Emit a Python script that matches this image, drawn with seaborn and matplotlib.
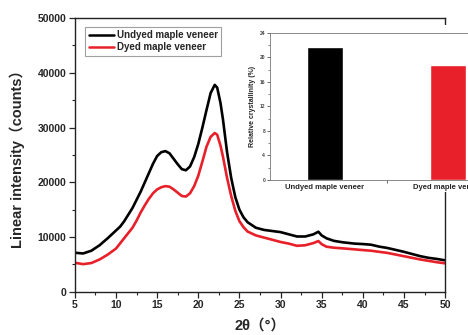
import numpy as np
import pandas as pd
import matplotlib
matplotlib.use("Agg")
import matplotlib.pyplot as plt
import seaborn as sns
from matplotlib.patches import Rectangle
from matplotlib.ticker import MultipleLocator

# XRD curves
two_theta_undyed = [5, 6, 7, 8, 9, 10, 10.5, 11, 12, 12.5, 13, 13.5, 14, 14.5, 15, 15.5, 16, 16.5,
                    17, 17.5, 18, 18.5, 19, 19.5, 20, 20.5, 21, 21.5, 22, 22.3, 22.7, 23, 23.5,
                    24, 24.5, 25, 25.5, 26, 27, 28, 29, 30, 31, 32, 33, 34, 34.6, 35, 35.6, 36.5,
                    37.6, 39, 40, 41, 42, 43, 44, 45, 46, 47, 48, 49, 50]
undyed = [7130, 7000, 7500, 8500, 9800, 11200, 11900, 12900, 15300, 16800, 18300, 20000, 21700,
          23400, 24800, 25500, 25700, 25300, 24300, 23300, 22400, 22200, 22900, 24600, 27000,
          30000, 33200, 36300, 37800, 37300, 34500, 31500, 25500, 20800, 17300, 15000, 13600,
          12700, 11700, 11300, 11100, 10900, 10500, 10100, 10100, 10500, 10970, 10300, 9760,
          9300, 9030, 8800, 8720, 8600, 8250, 8000, 7650, 7300, 6900, 6500, 6200, 6000, 5750]

two_theta_dyed = [5, 6, 7, 8, 9, 10, 11, 12, 12.5, 13, 13.5, 14, 14.5, 15, 15.5, 16, 16.5, 17,
                  17.5, 18, 18.5, 19, 19.5, 20, 20.5, 21, 21.5, 22, 22.3, 22.7, 23, 23.5, 24,
                  24.5, 25, 25.5, 26, 27, 28, 29, 30, 31, 32, 33, 34, 34.6, 35, 35.6, 36.5, 37.6,
                  39, 40, 41, 42, 43, 44, 45, 46, 47, 48, 49, 50]
dyed = [5300, 5050, 5250, 5900, 6800, 7900, 9800, 11700, 13000, 14500, 15800, 17000, 18000,
        18700, 19100, 19300, 19200, 18700, 18100, 17500, 17400, 18000, 19300, 21200, 23800,
        26500, 28300, 29000, 28700, 26700, 24700, 20800, 17500, 14800, 12900, 11800, 11000,
        10300, 9900, 9500, 9100, 8800, 8400, 8500, 8900, 9270, 8700, 8230, 8050, 7930, 7750,
        7620, 7500, 7300, 7100, 6800, 6500, 6200, 5900, 5650, 5400, 5200]

series_names = ["Undyed maple veneer", "Dyed maple veneer"]
crystallinity = [21.7, 18.8]

black = "#000000"
red = "#e8202a"

sns.set_style("ticks")
plt.rcParams["font.family"] = ["Liberation Sans", "Noto Sans CJK SC", "DejaVu Sans"]
plt.rcParams["font.weight"] = "bold"

df = pd.concat([
    pd.DataFrame({"two_theta": two_theta_undyed, "counts": undyed, "sample": series_names[0]}),
    pd.DataFrame({"two_theta": two_theta_dyed, "counts": dyed, "sample": series_names[1]}),
])

fig = plt.figure(figsize=(4.68, 3.35), dpi=100)
ax = fig.add_axes([0.160, 0.129, 0.791, 0.817])

sns.lineplot(data=df, x="two_theta", y="counts", hue="sample",
             palette={series_names[0]: black, series_names[1]: red},
             linewidth=1.9, ax=ax, sort=False)

ax.set_xlim(5, 50)
ax.set_ylim(0, 50000)
ax.xaxis.set_major_locator(MultipleLocator(5))
ax.xaxis.set_minor_locator(MultipleLocator(2.5))
ax.yaxis.set_major_locator(MultipleLocator(10000))
ax.yaxis.set_minor_locator(MultipleLocator(5000))
ax.tick_params(which="major", direction="out", length=4, width=0.9, labelsize=7.5, pad=2)
ax.tick_params(which="minor", direction="out", length=2.5, width=0.8)
for lab in ax.get_xticklabels() + ax.get_yticklabels():
    lab.set_fontweight("bold")
for sp in ax.spines.values():
    sp.set_visible(True)
    sp.set_linewidth(1.0)
    sp.set_color("#222222")
ax.set_xlabel("2θ（°）", fontsize=10.5, fontweight="bold", labelpad=6)
ax.set_ylabel("Linear intensity（counts）", fontsize=10.5, fontweight="bold", labelpad=9)

handles, labels = ax.get_legend_handles_labels()
leg = ax.legend(handles, labels, loc="upper left", bbox_to_anchor=(0.015, 0.985),
                fontsize=7, frameon=True, fancybox=False, handlelength=2.6,
                borderpad=0.35, labelspacing=0.2, handletextpad=0.3)
leg.get_frame().set_edgecolor("#888888")
leg.get_frame().set_linewidth(0.8)
for t in leg.get_texts():
    t.set_fontweight("bold")
for ln in leg.get_lines():
    ln.set_linewidth(1.8)

# white patch behind the inset
fig.patches.append(Rectangle((0.523, 0.427), 0.48, 0.498, transform=fig.transFigure,
                             facecolor="white", edgecolor="none", zorder=5))

inset = fig.add_axes([0.577, 0.463, 0.498, 0.439])
inset.set_zorder(6)
sns.barplot(x=series_names, y=crystallinity, hue=series_names,
            palette=[black, red], width=0.29, legend=False, saturation=1, ax=inset)
inset.set_xlim(-0.447, 1.447)
inset.set_ylim(0, 24)
inset.yaxis.set_major_locator(MultipleLocator(4))
inset.yaxis.set_minor_locator(MultipleLocator(2))
inset.set_xticks([0, 1])
inset.set_xticklabels(series_names, fontsize=5.5, fontweight="bold")
inset.set_xticks([0.5], minor=True)
inset.tick_params(axis="x", which="major", length=0, pad=3)
inset.tick_params(axis="x", which="minor", length=2.5, width=0.6, color="#555555")
inset.tick_params(axis="y", which="major", length=2, width=0.6, labelsize=3.5, pad=1.5,
                  color="#555555", labelcolor="#444444")
inset.tick_params(axis="y", which="minor", length=1.2, width=0.5, color="#555555")
inset.set_ylabel("Relative crystallinity (%)", fontsize=5, fontweight="bold", labelpad=3)
inset.set_xlabel("")
for sp in inset.spines.values():
    sp.set_visible(True)
    sp.set_linewidth(0.6)
    sp.set_color("#777777")

fig.savefig("out.png", dpi=100)
